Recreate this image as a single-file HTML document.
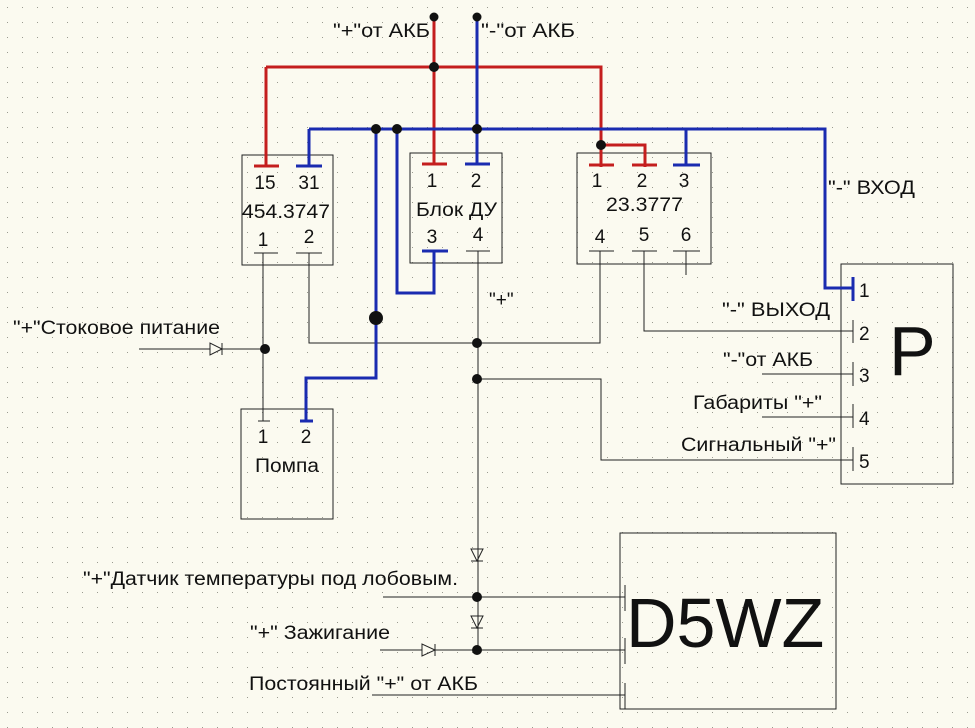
<!DOCTYPE html>
<html><head><meta charset="utf-8"><style>
html,body{margin:0;padding:0;width:975px;height:728px;overflow:hidden;background:#fbfaf0;}
svg{display:block}
text{font-family:"Liberation Sans","DejaVu Sans",sans-serif;fill:#111;}
</style></head><body>
<svg width="975" height="728" viewBox="0 0 975 728" xmlns="http://www.w3.org/2000/svg">
<defs>
<pattern id="g" width="15" height="15" patternUnits="userSpaceOnUse"><rect x="7" y="7" width="1" height="1" fill="#9a9a90"/></pattern>
</defs>
<rect width="975" height="728" fill="#fbfaf0"/>
<rect width="975" height="728" fill="url(#g)"/>

<g fill="none" stroke="#222" stroke-width="1">
<rect x="242" y="155" width="91" height="110"/>
<rect x="410" y="153" width="92" height="110"/>
<rect x="577" y="153" width="134" height="111"/>
<rect x="241" y="409" width="92" height="110"/>
<rect x="841" y="264" width="112" height="220"/>
<rect x="620" y="533" width="216" height="176"/>
<path d="M254 253H278M296 253H322M466 251H490M589 251H614M632 251H657M673 251H700M258 421H270"/>
<path d="M263 253V421M309 253V343H600V251M478 251V650M644 251V331H853M686 251V275"/>
<path d="M139 349H210M222 349H265"/>
<path d="M477 379H601V460H853"/>
<path d="M762 374H853M762 417H853"/>
<path d="M383 597H625M380 650H422M435 650H625M372 695H625"/>
<path d="M853 320V343M853 362V386M853 404V428M853 447V471"/>
<path d="M625 585V611M625 638V664M625 683V709"/>
<path d="M210 343V355L222 349Z M222 343V355"/>
<path d="M422 644V656L435 650Z M435 644V656"/>
<path d="M471 549H483L477 561Z M471 561H483"/>
<path d="M471 616H483L477 628Z M471 628H483"/>
</g>

<g fill="none" stroke="#c41e1e" stroke-width="3">
<path d="M434 17V165M266 67H601V167M266 67V167M601 145H645V167"/>
<path d="M254 166H279M422 164H447M589 165H614M632 165H657"/>
</g>
<g fill="none" stroke="#1a2bb0" stroke-width="3">
<path d="M477 17V165M309 129H825V288H853M309 129V167M686 129V166"/>
<path d="M376 129V378H306V421M397 129V293H434V252"/>
<path d="M296 166H322M465 164H490M673 165H700M422 251H448M300 421H313"/>
<path d="M853 277V301"/>
</g>

<g fill="#111">
<circle cx="434" cy="17" r="4.5"/><circle cx="477" cy="17" r="4.5"/>
<circle cx="434" cy="67" r="5"/><circle cx="376" cy="129" r="5"/><circle cx="397" cy="129" r="5"/>
<circle cx="477" cy="129" r="5"/><circle cx="601" cy="145" r="5"/>
<circle cx="376" cy="318" r="7"/><circle cx="265" cy="349" r="5"/>
<circle cx="477" cy="343" r="5"/><circle cx="477" cy="379" r="5"/>
<circle cx="477" cy="597" r="5"/><circle cx="477" cy="650" r="5"/>
</g>

<g font-size="19">
<text x="333" y="37" textLength="97" lengthAdjust="spacingAndGlyphs">"+"от АКБ</text>
<text x="481" y="37" textLength="94" lengthAdjust="spacingAndGlyphs">"-"от АКБ</text>
<text x="265" y="189" text-anchor="middle">15</text>
<text x="309" y="189" text-anchor="middle">31</text>
<text x="242" y="218" textLength="88" lengthAdjust="spacingAndGlyphs">454.3747</text>
<text x="263" y="246" text-anchor="middle">1</text>
<text x="309" y="243" text-anchor="middle">2</text>
<text x="432" y="187" text-anchor="middle">1</text>
<text x="476" y="187" text-anchor="middle">2</text>
<text x="416" y="216" textLength="81" lengthAdjust="spacingAndGlyphs">Блок ДУ</text>
<text x="432" y="243" text-anchor="middle">3</text>
<text x="478" y="241" text-anchor="middle">4</text>
<text x="597" y="187" text-anchor="middle">1</text>
<text x="642" y="187" text-anchor="middle">2</text>
<text x="684" y="187" text-anchor="middle">3</text>
<text x="606" y="211" textLength="77" lengthAdjust="spacingAndGlyphs">23.3777</text>
<text x="600" y="243" text-anchor="middle">4</text>
<text x="644" y="241" text-anchor="middle">5</text>
<text x="686" y="241" text-anchor="middle">6</text>
<text x="828" y="194" textLength="87" lengthAdjust="spacingAndGlyphs">"-" ВХОД</text>
<text x="489" y="306">"+"</text>
<text x="13" y="334" textLength="207" lengthAdjust="spacingAndGlyphs">"+"Стоковое питание</text>
<text x="722" y="316" textLength="108" lengthAdjust="spacingAndGlyphs">"-" ВЫХОД</text>
<text x="723" y="366" textLength="90" lengthAdjust="spacingAndGlyphs">"-"от АКБ</text>
<text x="693" y="409" textLength="129" lengthAdjust="spacingAndGlyphs">Габариты "+"</text>
<text x="681" y="451" textLength="155" lengthAdjust="spacingAndGlyphs">Сигнальный "+"</text>
<text x="859" y="297">1</text><text x="859" y="340">2</text><text x="859" y="382">3</text><text x="859" y="425">4</text><text x="859" y="468">5</text>
<text x="263" y="443" text-anchor="middle">1</text>
<text x="306" y="443" text-anchor="middle">2</text>
<text x="255" y="472" textLength="64" lengthAdjust="spacingAndGlyphs">Помпа</text>
<text x="83" y="585" textLength="375" lengthAdjust="spacingAndGlyphs">"+"Датчик температуры под лобовым.</text>
<text x="250" y="639" textLength="140" lengthAdjust="spacingAndGlyphs">"+" Зажигание</text>
<text x="249" y="690" textLength="229" lengthAdjust="spacingAndGlyphs">Постоянный "+" от АКБ</text>
</g>
<text x="889" y="375" font-size="70">P</text>
<text x="626" y="647" font-size="70">D5WZ</text>
</svg>
</body></html>
